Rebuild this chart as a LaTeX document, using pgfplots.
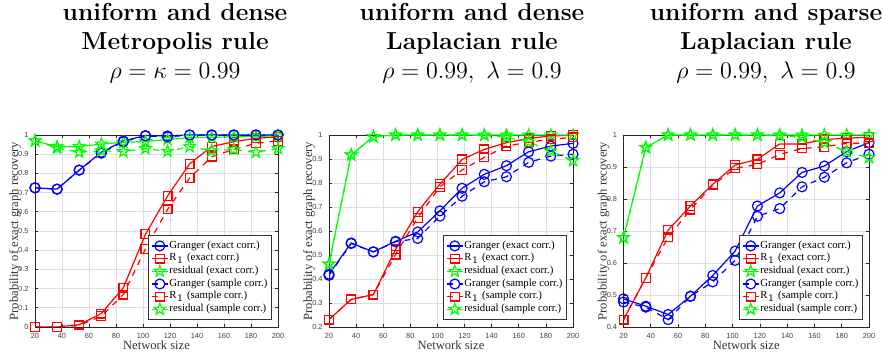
\documentclass[border=0pt]{standalone}
\usepackage{fontspec}
\usepackage{pgfplots}
\pgfplotsset{compat=1.18}
\newfontfamily\tnr{Liberation Serif}
\newfontfamily\hlv{Liberation Sans}

\pgfdeclareplotmark{pent}{%
  \pgfpathmoveto{\pgfpointpolar{90}{\pgfplotmarksize}}%
  \pgfpathlineto{\pgfpointpolar{126}{0.40\pgfplotmarksize}}%
  \pgfpathlineto{\pgfpointpolar{162}{\pgfplotmarksize}}%
  \pgfpathlineto{\pgfpointpolar{198}{0.40\pgfplotmarksize}}%
  \pgfpathlineto{\pgfpointpolar{234}{\pgfplotmarksize}}%
  \pgfpathlineto{\pgfpointpolar{270}{0.40\pgfplotmarksize}}%
  \pgfpathlineto{\pgfpointpolar{306}{\pgfplotmarksize}}%
  \pgfpathlineto{\pgfpointpolar{342}{0.40\pgfplotmarksize}}%
  \pgfpathlineto{\pgfpointpolar{18}{\pgfplotmarksize}}%
  \pgfpathlineto{\pgfpointpolar{54}{0.40\pgfplotmarksize}}%
  \pgfpathclose
  \pgfusepathqstroke
}

\pgfplotsset{
  legend image code/.code={\draw[mark repeat=2,mark phase=2,#1] plot coordinates {(0pt,0pt) (3.9pt,0pt) (7.8pt,0pt)};},
  myax/.style={
    scale only axis, height=96pt,
    xmin=20, xmax=200, xtick={20,40,...,200},
    grid=major, major grid style={black!13, line width=0.35pt},
    tick align=inside, major tick length=1.6pt,
    axis line style={black!85, line width=0.45pt},
    tick style={black!85, line width=0.35pt},
    /pgf/number format/assume math mode=true,
    ticklabel style={font=\hlv\fontsize{3.7}{4}\selectfont, text=black!75},
    yticklabel style={/pgf/number format/fixed, /pgf/number format/precision=1, xshift=0.3pt},
    xticklabel style={yshift=0.4pt},
    xlabel={Network size}, ylabel={Probability of exact graph recovery},
    every axis x label/.style={at={(axis description cs:0.5,0)}, yshift=-9pt, anchor=center,
      font=\tnr\fontsize{6.3}{7}\selectfont, text=black!80},
    every axis y label/.style={at={(axis description cs:0,0.5)}, xshift=-10pt, rotate=90, anchor=center,
      font=\tnr\fontsize{6.3}{7}\selectfont, text=black!80},
    legend style={at={(0.975,0.035)}, anchor=south east, font=\tnr\fontsize{5.4}{6}\selectfont,
      draw=black!80, line width=0.45pt, fill=white, inner xsep=1.4pt, inner ysep=0.6pt, row sep=-2.9pt,
      cells={anchor=west}, nodes={inner xsep=0.6pt}},
    every axis plot/.append style={line width=0.6pt},
  },
  gex/.style={blue, mark=o, mark size=2.5pt},
  gsa/.style={blue, dashed, mark=o, mark size=2.5pt, mark options={solid}},
  rex/.style={red, mark=square, mark size=2.2pt},
  rsa/.style={red, dashed, mark=square, mark size=2.2pt, mark options={solid}},
  sex/.style={green, mark=pent, mark size=3pt},
  ssa/.style={green, dashed, mark=pent, mark size=3pt, mark options={solid}},
}

\begin{document}
\begin{tikzpicture}
\useasboundingbox (0,0) rectangle (441.5pt,178pt);

% titles
\node[anchor=base, font=\fontsize{12.3}{14}\selectfont\bfseries] at (87.5pt,167.5pt) {uniform and dense};
\node[anchor=base, font=\fontsize{12.3}{14}\selectfont\bfseries] at (87.5pt,153pt) {Metropolis rule};
\node[anchor=base, font=\fontsize{12.3}{14}\selectfont] at (87.5pt,138.5pt) {$\rho=\kappa=0.99$};

\node[anchor=base, font=\fontsize{12.3}{14}\selectfont\bfseries] at (236pt,167.5pt) {uniform and dense};
\node[anchor=base, font=\fontsize{12.3}{14}\selectfont\bfseries] at (236pt,153pt) {Laplacian rule};
\node[anchor=base, font=\fontsize{12.3}{14}\selectfont] at (236pt,138.5pt) {$\rho=0.99,\ \lambda=0.9$};

\node[anchor=base, font=\fontsize{12.3}{14}\selectfont\bfseries] at (383pt,167.5pt) {uniform and sparse};
\node[anchor=base, font=\fontsize{12.3}{14}\selectfont\bfseries] at (383pt,153pt) {Laplacian rule};
\node[anchor=base, font=\fontsize{12.3}{14}\selectfont] at (383pt,138.5pt) {$\rho=0.99,\ \lambda=0.9$};

% panel 1
\begin{axis}[myax, at={(17.5pt,14.5pt)}, anchor=south west, width=121.5pt,
  ymin=0, ymax=1, ytick={0,0.1,...,1.01}]
\addplot[gex] coordinates {(20,0.725) (36.36,0.718) (52.73,0.817) (69.09,0.910) (85.45,0.969) (101.82,0.997) (118.18,0.995) (134.55,1) (150.91,1) (167.27,1) (183.64,1) (200,1)};
\addplot[rex] coordinates {(20,0) (36.36,0) (52.73,0.012) (69.09,0.070) (85.45,0.205) (101.82,0.483) (118.18,0.682) (134.55,0.850) (150.91,0.940) (167.27,0.965) (183.64,0.983) (200,0.990)};
\addplot[sex] coordinates {(20,0.970) (36.36,0.939) (52.73,0.939) (69.09,0.953) (85.45,0.962) (101.82,0.966) (118.18,0.977) (134.55,0.986) (150.91,0.988) (167.27,0.990) (183.64,0.993) (200,0.995)};
\addplot[gsa] coordinates {(20,0.725) (36.36,0.718) (52.73,0.817) (69.09,0.905) (85.45,0.965) (101.82,0.995) (118.18,0.990) (134.55,1) (150.91,1) (167.27,1) (183.64,1) (200,1)};
\addplot[rsa] coordinates {(20,0) (36.36,0) (52.73,0.008) (69.09,0.056) (85.45,0.169) (101.82,0.407) (118.18,0.612) (134.55,0.776) (150.91,0.887) (167.27,0.925) (183.64,0.957) (200,0.970)};
\addplot[ssa] coordinates {(20,0.970) (36.36,0.932) (52.73,0.910) (69.09,0.918) (85.45,0.913) (101.82,0.929) (118.18,0.915) (134.55,0.939) (150.91,0.918) (167.27,0.925) (183.64,0.910) (200,0.929)};
\legend{Granger (exact corr.), R$_1$ (exact corr.), residual (exact corr.), Granger (sample corr.), R$_1$ (sample corr.), residual (sample corr.)}
\end{axis}

% panel 2
\begin{axis}[myax, at={(164.5pt,14.5pt)}, anchor=south west, width=122pt,
  ymin=0.2, ymax=1, ytick={0.2,0.3,...,1.01}]
\addplot[gex] coordinates {(20,0.420) (36.36,0.550) (52.73,0.513) (69.09,0.557) (85.45,0.596) (101.82,0.684) (118.18,0.778) (134.55,0.836) (150.91,0.872) (167.27,0.930) (183.64,0.954) (200,0.965)};
\addplot[rex] coordinates {(20,0.231) (36.36,0.315) (52.73,0.335) (69.09,0.523) (85.45,0.680) (101.82,0.795) (118.18,0.898) (134.55,0.940) (150.91,0.968) (167.27,0.986) (183.64,0.996) (200,0.999)};
\addplot[sex] coordinates {(20,0.462) (36.36,0.917) (52.73,0.993) (69.09,1) (85.45,1) (101.82,1) (118.18,1) (134.55,1) (150.91,1) (167.27,1) (183.64,1) (200,1)};
\addplot[gsa] coordinates {(20,0.415) (36.36,0.548) (52.73,0.513) (69.09,0.555) (85.45,0.569) (101.82,0.662) (118.18,0.745) (134.55,0.805) (150.91,0.826) (167.27,0.886) (183.64,0.912) (200,0.920)};
\addplot[rsa] coordinates {(20,0.231) (36.36,0.315) (52.73,0.335) (69.09,0.502) (85.45,0.655) (101.82,0.784) (118.18,0.854) (134.55,0.907) (150.91,0.954) (167.27,0.970) (183.64,0.982) (200,0.990)};
\addplot[ssa] coordinates {(20,0.462) (36.36,0.917) (52.73,0.993) (69.09,1) (85.45,1) (101.82,1) (118.18,1) (134.55,0.998) (150.91,0.990) (167.27,0.972) (183.64,0.933) (200,0.893)};
\legend{Granger (exact corr.), R$_1$ (exact corr.), residual (exact corr.), Granger (sample corr.), R$_1$ (sample corr.), residual (sample corr.)}
\end{axis}

% panel 3
\begin{axis}[myax, at={(311.75pt,14.5pt)}, anchor=south west, width=122.75pt,
  ymin=0.4, ymax=1, ytick={0.4,0.5,...,1.01}]
\addplot[gex] coordinates {(20,0.488) (36.36,0.465) (52.73,0.439) (69.09,0.496) (85.45,0.561) (101.82,0.637) (118.18,0.778) (134.55,0.819) (150.91,0.883) (167.27,0.903) (183.64,0.948) (200,0.976)};
\addplot[rex] coordinates {(20,0.423) (36.36,0.554) (52.73,0.703) (69.09,0.778) (85.45,0.846) (101.82,0.906) (118.18,0.924) (134.55,0.972) (150.91,0.972) (167.27,0.986) (183.64,0.990) (200,0.993)};
\addplot[sex] coordinates {(20,0.679) (36.36,0.961) (52.73,1) (69.09,1) (85.45,1) (101.82,1) (118.18,1) (134.55,1) (150.91,1) (167.27,1) (183.64,1) (200,1)};
\addplot[gsa] coordinates {(20,0.478) (36.36,0.462) (52.73,0.423) (69.09,0.496) (85.45,0.541) (101.82,0.608) (118.18,0.746) (134.55,0.770) (150.91,0.838) (167.27,0.868) (183.64,0.913) (200,0.940)};
\addplot[rsa] coordinates {(20,0.423) (36.36,0.554) (52.73,0.680) (69.09,0.767) (85.45,0.843) (101.82,0.896) (118.18,0.908) (134.55,0.939) (150.91,0.958) (167.27,0.963) (183.64,0.974) (200,0.974)};
\addplot[ssa] coordinates {(20,0.679) (36.36,0.961) (52.73,1) (69.09,1) (85.45,1) (101.82,1) (118.18,1) (134.55,0.998) (150.91,0.993) (167.27,0.976) (183.64,0.948) (200,0.929)};
\legend{Granger (exact corr.), R$_1$ (exact corr.), residual (exact corr.), Granger (sample corr.), R$_1$ (sample corr.), residual (sample corr.)}
\end{axis}
\end{tikzpicture}
\end{document}
